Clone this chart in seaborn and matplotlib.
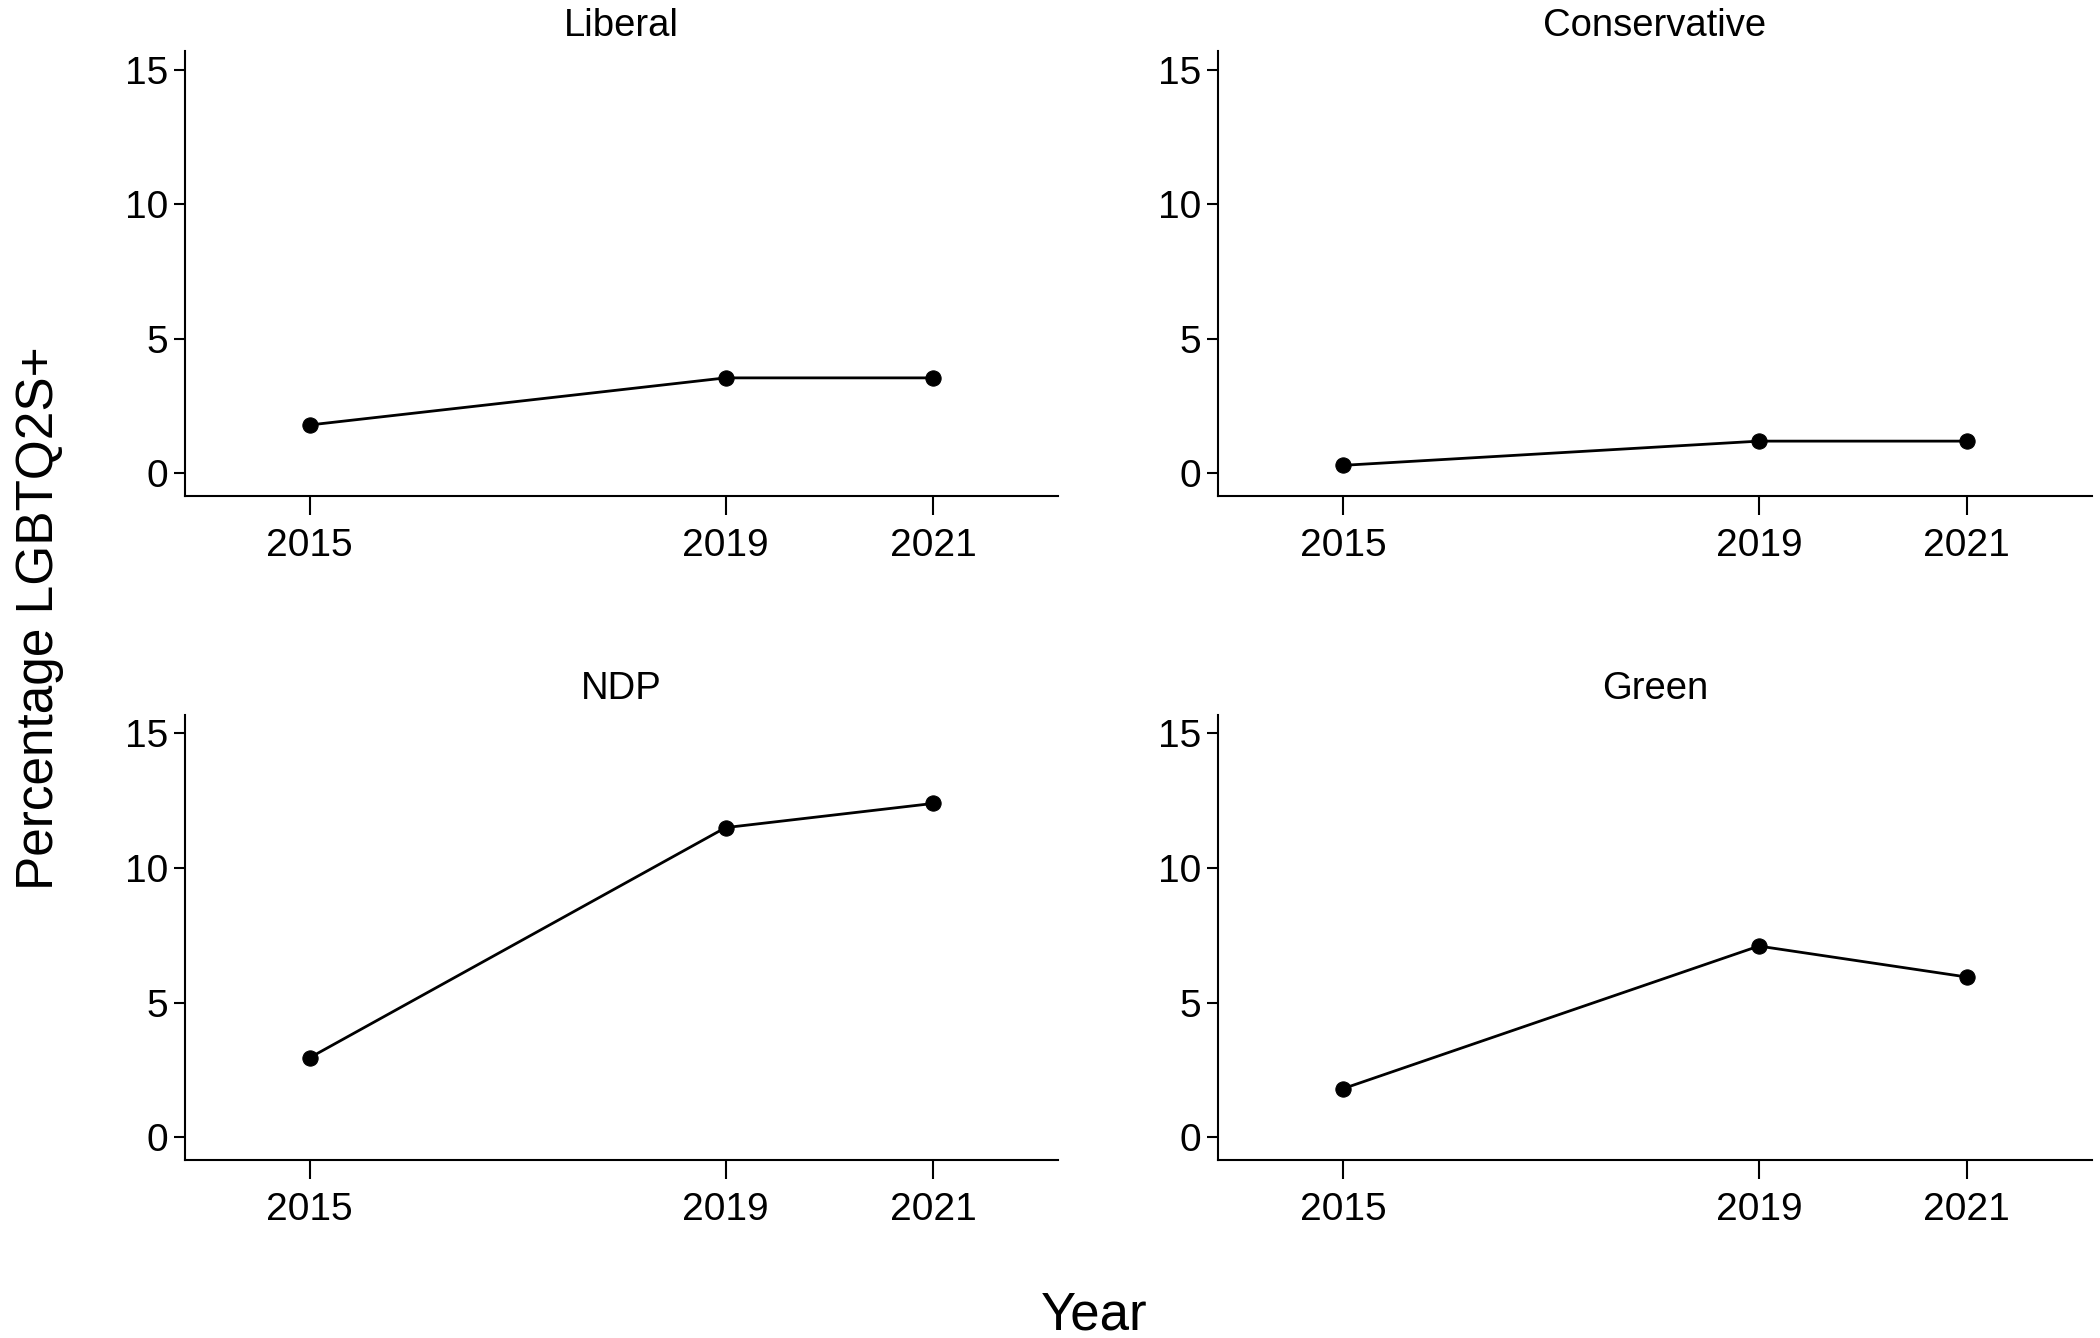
import pandas as pd
import numpy as np
import matplotlib.pyplot as plt
import seaborn as sns

# values
years = [2015, 2019, 2021]
parties = ['Liberal', 'Conservative', 'NDP', 'Green']
liberal = [1.8, 3.55, 3.55]
conservative = [0.3, 1.2, 1.2]
ndp = [2.95, 11.5, 12.4]
green = [1.8, 7.1, 5.95]

df = pd.DataFrame({'year': years * 4,
                   'party': np.repeat(parties, 3),
                   'pct': liberal + conservative + ndp + green})

sns.set_theme(style='ticks')
plt.rcParams['font.family'] = ['Liberation Sans', 'DejaVu Sans']
plt.rcParams['text.color'] = 'black'
plt.rcParams['xtick.labelcolor'] = 'black'
plt.rcParams['ytick.labelcolor'] = 'black'

fig, axes = plt.subplots(2, 2, figsize=(21, 13.38), dpi=100)
fig.subplots_adjust(left=0.088, right=0.996, bottom=0.133, top=0.962,
                    wspace=0.183, hspace=0.49)

for ax, p in zip(axes.flat, parties):
    sns.lineplot(data=df[df['party'] == p], x='year', y='pct', ax=ax,
                 color='black', marker='o', markersize=11, linewidth=2,
                 markeredgecolor='black')
    ax.set_xlim(2013.8, 2022.2)
    ax.set_ylim(-0.85, 15.7)
    ax.set_xticks(years)
    ax.set_yticks([0, 5, 10, 15])
    ax.set_xlabel('')
    ax.set_ylabel('')
    ax.set_title(p, fontsize=27.5, pad=11, color='black')
    ax.tick_params(axis='x', length=14, width=1.5, labelsize=28, pad=9, color='black')
    ax.tick_params(axis='y', length=8, width=1.5, labelsize=28, pad=4, color='black')
    for s in ['left', 'bottom']:
        ax.spines[s].set_linewidth(1.5)
        ax.spines[s].set_color('black')
    sns.despine(ax=ax)

fig.text(0.521, 0.017, 'Year', fontsize=38, ha='center', va='center', color='black')
fig.text(0.019, 0.538, 'Percentage LGBTQ2S+', fontsize=37, rotation=90,
         ha='center', va='center', color='black')

plt.savefig('out.png', dpi=100)
